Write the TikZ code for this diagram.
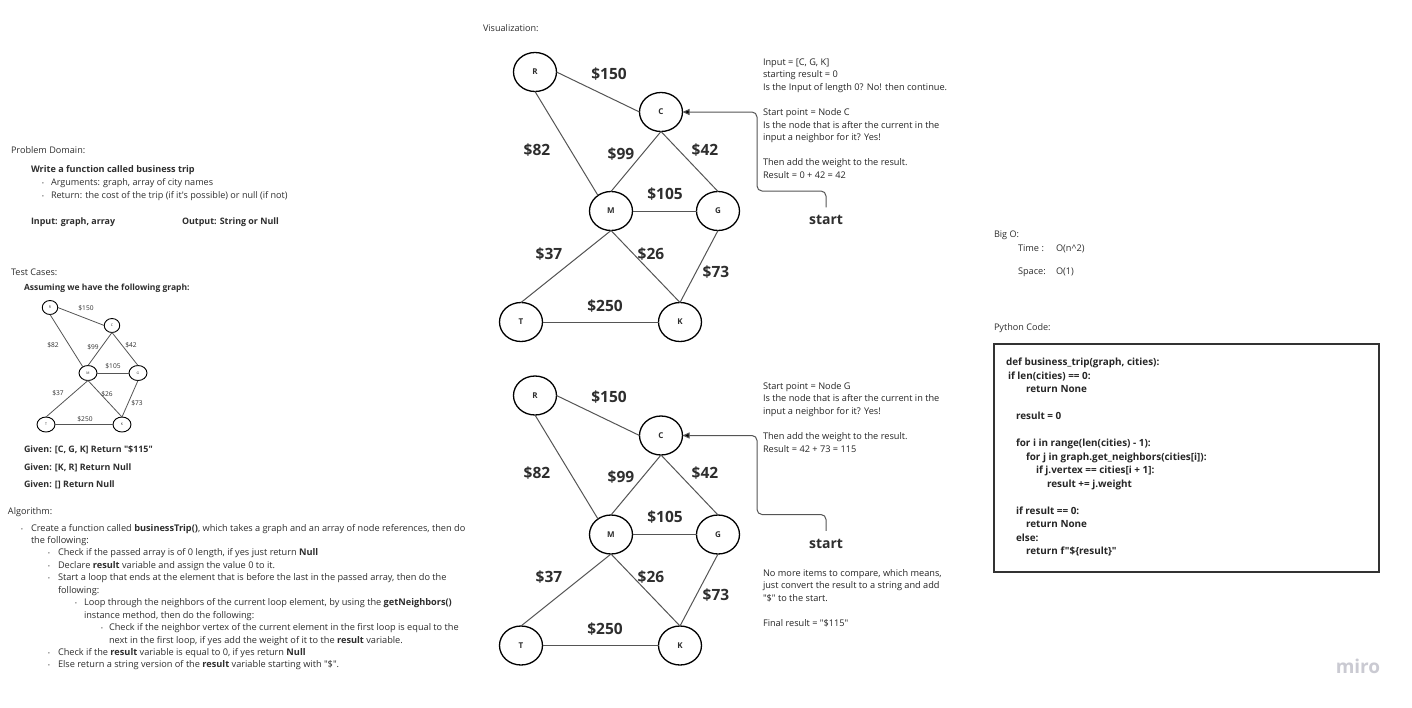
\documentclass[tikz,border=0pt]{standalone}
\usepackage{fontspec}
% a plain family: straight quotes stay straight
\newfontfamily\osans{Open Sans}
\usetikzlibrary{shapes.geometric,arrows.meta}
\definecolor{ink}{HTML}{2E2E2E}
\definecolor{linkgray}{HTML}{555555}
\definecolor{dotgray}{HTML}{6A6A6A}
\definecolor{logogray}{HTML}{CACAD2}

% one weighted city graph; #1 = name suffix, #2 = vertical offset
\newcommand\citygraph[2]{%
  \node[city] (R#1) at (535,{72+#2}) {R};
  \node[city] (C#1) at (661,{112+#2}) {C};
  \node[city] (M#1) at (611,{211+#2}) {M};
  \node[city] (G#1) at (718,{211+#2}) {G};
  \node[city] (T#1) at (521,{322+#2}) {T};
  \node[city] (K#1) at (680,{322+#2}) {K};
  \draw[link] (R#1.east) -- (C#1.west);
  \draw[link] (R#1.south) -- (M#1.130);
  \draw[link] (C#1.south) -- (M#1.north);
  \draw[link] (C#1.south) -- (G#1.north);
  \draw[link] (M#1.east) -- (G#1.west);
  \draw[link] (M#1.south) -- (T#1.north);
  \draw[link] (M#1.south) -- (K#1.north);
  \draw[link] (G#1.south) -- (K#1.north);
  \draw[link] (T#1.east) -- (K#1.west);
  \node[wt] (w150#1) at (609,{74+#2}) {\$150};
  \node[wt] (w82#1)  at (537,{150+#2}) {\$82};
  \node[wt] (w99#1)  at (621,{154+#2}) {\$99};
  \node[wt] (w42#1)  at (705,{150+#2}) {\$42};
  \node[wt] (w105#1) at (665,{194+#2}) {\$105};
  \node[wt] (w37#1)  at (549,{254+#2}) {\$37};
  \node[wt] (w26#1)  at (651,{254+#2}) {\$26};
  \node[wt] (w73#1)  at (716,{272+#2}) {\$73};
  \node[wt] (w250#1) at (605,{306+#2}) {\$250};
}

\begin{document}
\osans
\begin{tikzpicture}[x=1pt,y=-1pt,
  every node/.style={inner sep=0pt,outer sep=0pt,text=ink},
  head/.style={font=\fontsize{9.1}{11}\selectfont,anchor=base west},
  body/.style={font=\fontsize{9.2}{11}\selectfont,anchor=base west},
  pdbody/.style={font=\fontsize{9.1}{11}\selectfont,anchor=base west},
  bbody/.style={font=\fontsize{8.9}{10}\selectfont\bfseries,anchor=base west},
  note/.style={font=\fontsize{9.2}{11}\selectfont,anchor=base west,text=black!85},
  code/.style={font=\fontsize{9.9}{11}\selectfont\bfseries,anchor=base west,text=black!85},
  bul/.style={font=\fontsize{6}{6}\selectfont,text=dotgray,anchor=base},
  city/.style={draw=black,line width=1.3pt,ellipse,minimum width=43pt,minimum height=39pt,
    font=\fontsize{8}{8}\selectfont\bfseries},
  scity/.style={draw=black,line width=0.9pt,ellipse,minimum width=18pt,minimum height=15pt,
    font=\fontsize{3.5}{4}\selectfont},
  link/.style={draw=linkgray,line width=1pt},
  slink/.style={draw=linkgray,line width=0.8pt},
  wt/.style={font=\fontsize{15.5}{16}\selectfont\bfseries},
  swt/.style={font=\fontsize{6.6}{7}\selectfont,text=ink},
  startlbl/.style={font=\fontsize{14}{14}\selectfont\bfseries,inner ysep=8pt},
  conn/.style={draw=linkgray,line width=1pt,rounded corners=5pt,
    -{Triangle[length=7pt,width=6pt,fill=black]}},
]
\useasboundingbox (0,0) rectangle (1412,707);
\fill[white] (0,0) rectangle (1412,707);

% ---------- problem domain ----------
\node[head] (pd) at (11,153) {Problem Domain:};
\node[bbody,font=\fontsize{9.1}{10}\selectfont\bfseries] (pd-task) at (31,172) {Write a function called business trip};
\node[bul] (pd-b1) at (43,185) {\textbullet};
\node[pdbody] (pd-args) at (51,185) {Arguments: graph, array of city names};
\node[bul] (pd-b2) at (43,198) {\textbullet};
\node[pdbody] (pd-ret) at (51,198) {Return: the cost of the trip (if it's possible) or null (if not)};
\node[bbody] (pd-in) at (31,224) {Input: graph, array};
\node[bbody] (pd-out) at (182,224) {Output: String or Null};

% ---------- test cases ----------
\node[head] (tc) at (11,275) {Test Cases:};
\node[bbody,font=\fontsize{8.5}{10}\selectfont\bfseries] (tc-intro) at (24,290) {Assuming we have the following graph:};

\node[scity,minimum width=15.5pt,minimum height=14pt] (Rs) at (50,307.5) {R};
\node[scity,minimum width=15.5pt,minimum height=14pt] (Cs) at (112,325.5) {C};
\node[scity] (Ms) at (88,373) {M};
\node[scity] (Gs) at (138,373) {G};
\node[scity] (Ts) at (46,424.5) {T};
\node[scity] (Ks) at (122,424.5) {K};
\draw[slink] (Rs.east) -- (Cs.west);
\draw[slink] (Rs.south) -- (Ms.130);
\draw[slink] (Cs.south) -- (Ms.north);
\draw[slink] (Cs.south) -- (Gs.north);
\draw[slink] (Ms.east) -- (Gs.west);
\draw[slink] (Ms.south) -- (Ts.north);
\draw[slink] (Ms.south) -- (Ks.north);
\draw[slink] (Gs.south) -- (Ks.north);
\draw[slink] (Ts.east) -- (Ks.west);
\node[swt] (sw150) at (86,308) {\$150};
\node[swt] (sw82)  at (53,345) {\$82};
\node[swt] (sw99)  at (93,347) {\$99};
\node[swt] (sw42)  at (131,345) {\$42};
\node[swt] (sw105) at (113,366) {\$105};
\node[swt] (sw37)  at (58,393) {\$37};
\node[swt] (sw26)  at (107,394) {\$26};
\node[swt] (sw73)  at (137,403) {\$73};
\node[swt] (sw250) at (85,419) {\$250};

\node[bbody] (tc-g1) at (24,452) {Given: [C, G, K] Return "\$115"};
\node[bbody] (tc-g2) at (24,470) {Given: [K, R] Return Null};
\node[bbody] (tc-g3) at (24,487) {Given: [] Return Null};

% ---------- algorithm ----------
\node[head] (alg) at (8,514) {Algorithm:};
\foreach \bx/\tx/\k/\b/\t [count=\i] in {
  22/31/0/1/{Create a function called \textbf{businessTrip()}, which takes a graph and an array of node references, then do},
  22/31/1/0/{the following:},
  49/58/2/1/{Check if the passed array is of 0 length, if yes just return \textbf{Null}},
  49/58/3/1/{Declare \textbf{result} variable and assign the value 0 to it.},
  49/58/4/1/{Start a loop that ends at the element that is before the last in the passed array, then do the},
  49/58/5/0/{following:},
  76/84/6/1/{Loop through the neighbors of the current loop element, by using the \textbf{getNeighbors()}},
  76/84/7/0/{instance method, then do the following:},
  102/109/8/1/{Check if the neighbor vertex of the current element in the first loop is equal to the},
  102/109/9/0/{next in the first loop, if yes add the weight of it to the \textbf{result} variable.},
  49/58/10/1/{Check if the \textbf{result} variable is equal to 0, if yes return \textbf{Null}},
  49/58/11/1/{Else return a string version of the \textbf{result} variable starting with "\$".}} {
  \node[body] (alg-\i) at (\tx,{531+12.45*\k}) {\t};
  \ifnum\b=1 \node[bul] (alg-dot-\i) at (\bx,{531+12.45*\k}) {\textbullet};\fi
}

% ---------- visualization ----------
\node[head] (vis) at (483,31) {Visualization:};
\citygraph{a}{0}
\citygraph{b}{323.5}

\foreach \k/\t [count=\i] in {
  0/{Input = [C, G, K]},
  1/{starting result = 0},
  2/{Is the Input of length 0? No! then continue.},
  4/{Start point = Node C},
  5/{Is the node that is after the current in the},
  6/{input a neighbor for it? Yes!},
  8/{Then add the weight to the result.},
  9/{Result = 0 + 42 = 42}} {
  \node[note] (step1-\i) at (763,{65+12.6*\k}) {\t};
}
\node[startlbl] (st-a) at (826,220) {start};
\coordinate (bend-a) at (757,191);
\draw[conn] (st-a.north) |- (bend-a) |- (Ca.east);

\foreach \k/\t [count=\i] in {
  0/{Start point = Node G},
  1/{Is the node that is after the current in the},
  2/{input a neighbor for it? Yes!},
  4/{Then add the weight to the result.},
  5/{Result = 42 + 73 = 115}} {
  \node[note] (step2-\i) at (763,{389+12.6*\k}) {\t};
}
\node[startlbl] (st-b) at (826,543.5) {start};
\coordinate (bend-b) at (757,514.5);
\draw[conn] (st-b.north) |- (bend-b) |- (Cb.east);

\foreach \k/\t [count=\i] in {
  0/{No more items to compare, which means,},
  1/{just convert the result to a string and add},
  2/{"\$" to the start.},
  4/{Final result = "\$115"}} {
  \node[note] (final-\i) at (763,{576+12.6*\k}) {\t};
}

% ---------- complexity ----------
\node[head] (bigo) at (994,237) {Big O:};
\node[body] (bigo-t) at (1018,251.3) {Time :};
\node[body] (bigo-tv) at (1056,251.3) {O(n\textasciicircum 2)};
\node[body] (bigo-s) at (1018,274.7) {Space:};
\node[body] (bigo-sv) at (1056,274.7) {O(1)};

% ---------- python code ----------
\node[head] (py) at (994,330) {Python Code:};
\node[draw=black!80,line width=1.3pt,anchor=north west,minimum width=385pt,minimum height=228pt]
  (codebox) at (994,344) {};
\foreach \cx/\k/\t [count=\i] in {
  1006/0/{def business\_trip(graph, cities):},
  1008/1/{if len(cities) == 0:},
  1026/2/{return None},
  1016/4/{result = 0},
  1016/6/{for i in range(len(cities) - 1):},
  1026/7/{for j in graph.get\_neighbors(cities[i]):},
  1036/8/{if j.vertex == cities[i + 1]:},
  1047/9/{result += j.weight},
  1016/11/{if result == 0:},
  1026/12/{return None},
  1016/13/{else:},
  1026/14/{return f"\$\{result\}"}} {
  \node[code] (code-\i) at (\cx,{365.7+13.5*\k}) {\t};
}

% ---------- board logo ----------
\node[font=\fontsize{19}{20}\selectfont\bfseries,text=logogray] (logo) at (1358,666) {miro};
\end{tikzpicture}
\end{document}
